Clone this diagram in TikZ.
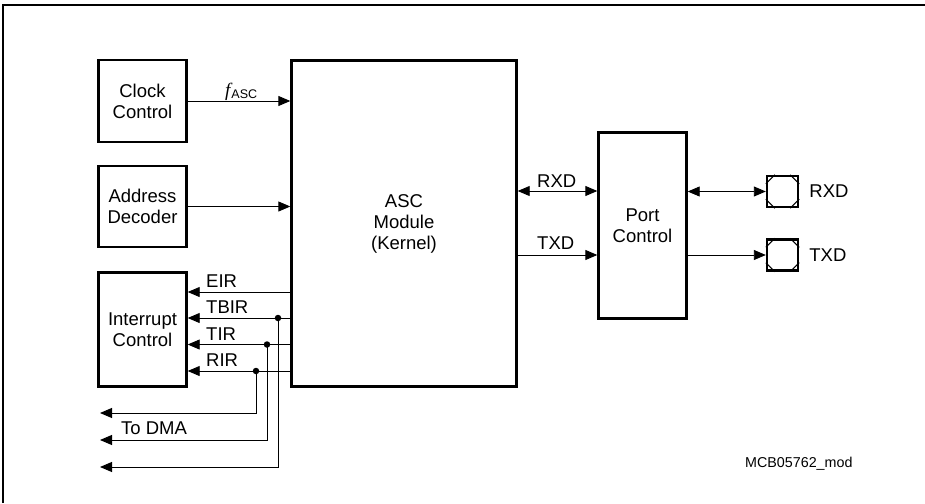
\documentclass[tikz,border=0pt]{standalone}
\usepackage{fontspec}
\setmainfont{Liberation Sans}
\newfontfamily\tms{Liberation Serif}
\usetikzlibrary{arrows.meta,calc}
\begin{document}
\begin{tikzpicture}[x=1pt,y=-1pt,
  blk/.style={draw,line width=2.4pt,inner sep=0pt,align=center,font=\fontsize{18.5}{21}\selectfont},
  con/.style={line width=0.9pt},
  arr/.style={con,-{Triangle[length=12pt,width=10pt]}},
  darr/.style={con,{Triangle[length=12pt,width=10pt]}-{Triangle[length=12pt,width=10pt]}},
  lbl/.style={inner sep=0pt,anchor=base west,font=\fontsize{18.5}{21}\selectfont},
  pad/.style={draw,line width=2.4pt,minimum width=31pt,minimum height=31pt,inner sep=0pt},
  dot/.style={circle,fill,inner sep=0pt,minimum size=6.5pt}]
\useasboundingbox (0,0) rectangle (925,503);
% frame
\draw[line width=1.4pt] (3,503) -- (3,5) -- (925,5);
% blocks
\node[blk,minimum width=88pt,minimum height=82pt] (clk) at (142.5,101) {Clock\\Control};
\node[blk,minimum width=88pt,minimum height=81pt] (adr) at (142.5,206.5) {Address\\Decoder};
\node[blk,minimum width=88pt,minimum height=114pt] (int) at (142.5,329.5) {Interrupt\\Control};
\node[blk,minimum width=225pt,minimum height=326pt] (asc) at (404,223.5) {ASC\\Module\\(Kernel)};
\node[blk,minimum width=88pt,minimum height=186pt] (port) at (642.5,225.5) {Port\\Control};
\node[pad] (prx) at (782.5,191.5) {};
\node[pad] (ptx) at (782.5,255) {};
% pad corner diagonals
\foreach \p in {prx,ptx}{
  \draw[line width=1pt] ($(\p.north west)+(0,9)$) -- ($(\p.north west)+(9,0)$);
  \draw[line width=1pt] ($(\p.north east)+(0,9)$) -- ($(\p.north east)+(-9,0)$);
  \draw[line width=1pt] ($(\p.south west)+(0,-9)$) -- ($(\p.south west)+(9,0)$);
  \draw[line width=1pt] ($(\p.south east)+(0,-9)$) -- ($(\p.south east)+(-9,0)$);
}
\node[lbl,anchor=west] (lrx) at ($(prx.east)+(10,0)$) {RXD};
\node[lbl,anchor=west] (ltx) at ($(ptx.east)+(10,0)$) {TXD};
% inputs to ASC
\draw[arr] (clk.east) -- (asc.west |- clk.east);
\draw[arr] (adr.east) -- (asc.west |- adr.east);
\node[inner sep=0pt,anchor=base west] (fasc) at (225,96) {{\fontsize{19}{19}\selectfont\tms\itshape f}\kern1pt\raisebox{-2pt}{\fontsize{12.5}{13}\selectfont ASC}};
% ASC <-> Port
\coordinate (yrx) at (0,191);
\coordinate (ytx) at (0,255);
\draw[darr] (asc.east |- yrx) -- (port.west |- yrx);
\draw[arr] (asc.east |- ytx) -- (port.west |- ytx);
\node[lbl] (trx) at (537,187) {RXD};
\node[lbl] (ttx) at (537,249) {TXD};
\draw[darr] (port.east |- prx.west) -- (prx.west);
\draw[arr] (port.east |- ptx.west) -- (ptx.west);
% interrupt lines
\coordinate (yeir) at (0,292);
\coordinate (ytbir) at (0,318);
\coordinate (ytir) at (0,344.5);
\coordinate (yrir) at (0,371);
\draw[arr] (asc.west |- yeir) -- (int.east |- yeir);
\draw[arr] (asc.west |- ytbir) -- (int.east |- ytbir);
\draw[arr] (asc.west |- ytir) -- (int.east |- ytir);
\draw[arr] (asc.west |- yrir) -- (int.east |- yrir);
\node[lbl] (teir) at (206,287) {EIR};
\node[lbl] (ttbir) at (206,313) {TBIR};
\node[lbl] (ttir) at (206,340) {TIR};
\node[lbl] (trir) at (206,366) {RIR};
% junctions
\node[dot] (d1) at (278,318) {};
\node[dot] (d2) at (267,344.5) {};
\node[dot] (d3) at (256,371) {};
\coordinate (e1) at (100,467);
\coordinate (e2) at (100,440);
\coordinate (e3) at (100,413);
\draw[arr] (d1.center) |- (e1);
\draw[arr] (d2.center) |- (e2);
\draw[arr] (d3.center) |- (e3);
\node[lbl] (tdma) at (121,434) {To DMA};
\node[inner sep=0pt,anchor=base west,font=\fontsize{14.3}{16}\selectfont] (mcb) at (745,467) {MCB05762\_mod};
\end{tikzpicture}
\end{document}
